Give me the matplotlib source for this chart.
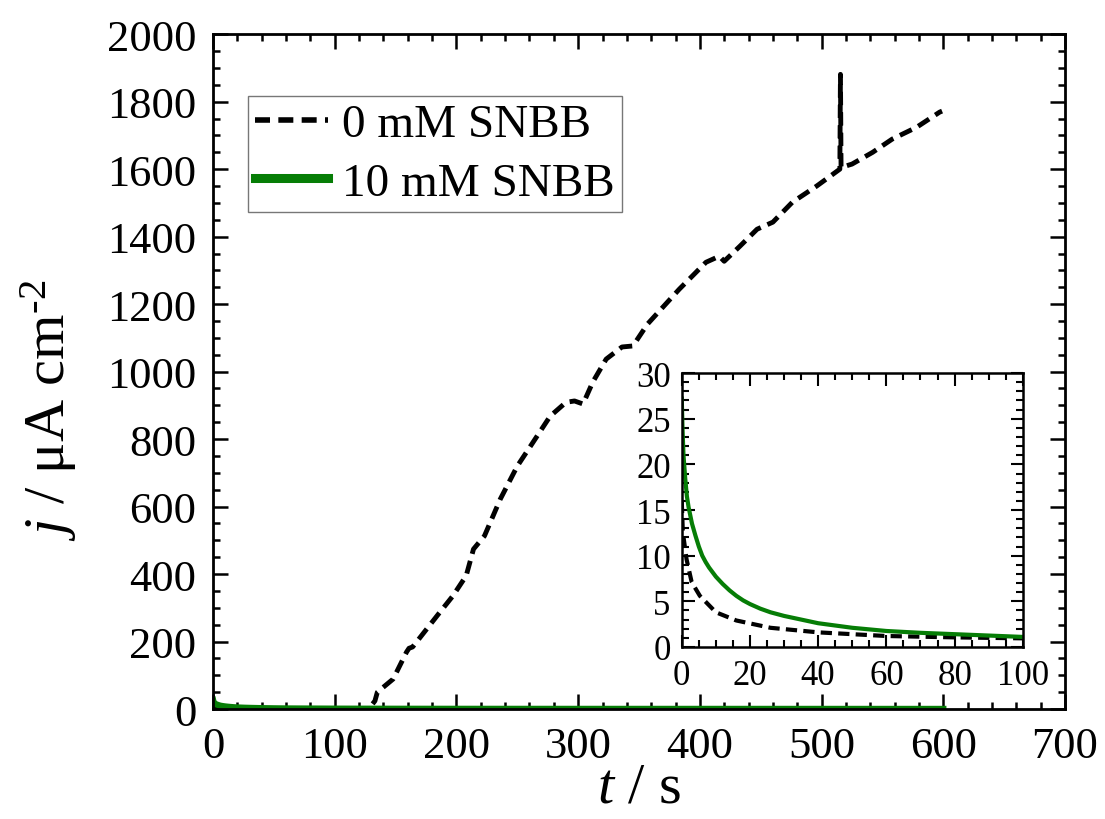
import matplotlib
matplotlib.use("Agg")
import matplotlib.pyplot as plt
from matplotlib.ticker import MultipleLocator

plt.rcParams['font.family'] = ['Liberation Serif', 'DejaVu Serif']
plt.rcParams['mathtext.fontset'] = 'custom'
plt.rcParams['mathtext.rm'] = 'Liberation Serif'
plt.rcParams['mathtext.it'] = 'Liberation Serif:italic'

# ---- data: 0 mM SNBB (dashed black) ----
t0 = [0, 0.3, 1.4, 2.9, 5.3, 10, 16, 26, 40, 60, 80, 99, 110, 120, 128,
      133, 135, 148, 159, 161, 164, 184, 197, 208, 214, 223, 236, 250, 263, 277,
      290, 297, 304, 312, 323, 336, 345, 357, 383, 405, 416, 420, 433, 447,
      460, 476, 496, 515, 515.5, 516, 525, 542, 558, 578, 597, 599]
j0 = [15.9, 12.6, 9.6, 7.1, 5.6, 3.8, 2.9, 2.1, 1.6, 1.2, 1.05, 0.95, 0.9, 0.85, 1,
      24, 50, 89, 169, 180, 184, 276, 335, 395, 474, 513, 622, 720, 791, 868,
      909, 913, 904, 969, 1037, 1073, 1076, 1141, 1244, 1324, 1342, 1327, 1372, 1422,
      1443, 1502, 1550, 1600, 1881, 1605, 1615, 1650, 1689, 1724, 1769, 1772]

# ---- data: 10 mM SNBB (solid green) ----
t10 = [0, 0.2, 0.5, 1, 1.5, 2, 3, 4, 5, 6, 7, 8, 10, 12, 14, 16, 18, 20, 23, 26,
       30, 35, 40, 45, 50, 60, 70, 80, 90, 100, 150, 200, 300, 400, 500, 600]
j10 = [27.2, 24, 21, 18.5, 16.5, 15.3, 13.5, 12.2, 11, 10, 9.3, 8.7, 7.7, 6.9, 6.2, 5.6,
       5.1, 4.7, 4.2, 3.8, 3.4, 3.0, 2.6, 2.35, 2.1, 1.75, 1.55, 1.4, 1.25, 1.1,
       0.8, 0.6, 0.45, 0.4, 0.35, 0.3]

labels = ['0 mM SNBB', '10 mM SNBB']
green = '#067d06'

fig = plt.figure(figsize=(11.05, 8.2), dpi=100)
ax = fig.add_axes([0.1928, 0.1341, 0.771, 0.823])

ax.plot(t0, j0, color='black', lw=3.5, dashes=(2.7, 1.5), label=labels[0])
ax.plot(t10, j10, color=green, lw=4.5, label=labels[1])

ax.set_xlim(0, 700)
ax.set_ylim(0, 2000)
ax.xaxis.set_major_locator(MultipleLocator(100))
ax.xaxis.set_minor_locator(MultipleLocator(20))
ax.yaxis.set_major_locator(MultipleLocator(200))
ax.yaxis.set_minor_locator(MultipleLocator(50))
ax.tick_params(which='both', direction='in', top=True, right=True, labelsize=32, width=1.8)
ax.tick_params(axis='y', pad=12)
ax.tick_params(axis='x', pad=12)
ax.tick_params(which='major', length=11)
ax.tick_params(which='minor', length=5)
for s in ax.spines.values():
    s.set_linewidth(2)
ax.set_xlabel(r'$\it{t}$ / s', fontsize=42, labelpad=-3)
ax.set_ylabel('$\\it{j}$ / μA cm$^{\u20102}$', fontsize=42)
ax.yaxis.set_label_coords(-0.157, 0.444)

leg = ax.legend(loc='upper left', bbox_to_anchor=(0.041, 0.908), fontsize=34,
                frameon=True, fancybox=False, edgecolor='#555555', handlelength=1.55,
                handletextpad=0.3, borderpad=0.15, labelspacing=0.32, borderaxespad=0)
leg.get_frame().set_linewidth(1.0)
hl = leg.get_lines()
hl[0].set_linewidth(4)
hl[1].set_linewidth(6.5)

# ---- inset ----
ins = fig.add_axes([0.617, 0.2098, 0.3086, 0.334])
ins.plot(t0, j0, color='black', lw=3, dashes=(2.7, 1.5))
ins.plot(t10, j10, color=green, lw=3)
ins.set_xlim(0, 100)
ins.set_ylim(0, 30)
ins.xaxis.set_major_locator(MultipleLocator(20))
ins.xaxis.set_minor_locator(MultipleLocator(5))
ins.yaxis.set_major_locator(MultipleLocator(5))
ins.yaxis.set_minor_locator(MultipleLocator(1))
ins.tick_params(which='both', direction='in', top=True, right=True, labelsize=25, width=1.5)
ins.tick_params(axis='y', pad=8)
ins.tick_params(axis='x', pad=9)
ins.tick_params(which='major', length=9)
ins.tick_params(which='minor', length=5)
for s in ins.spines.values():
    s.set_linewidth(1.8)

fig.savefig('out.png', dpi=100)
